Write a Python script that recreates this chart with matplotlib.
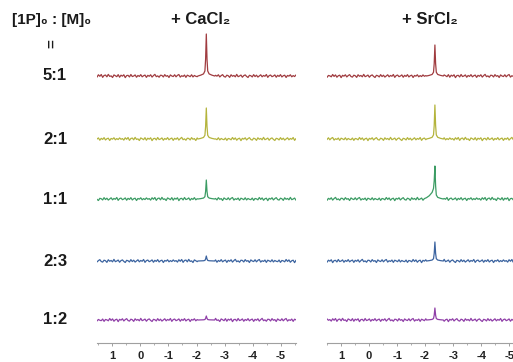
import numpy as np
import matplotlib
matplotlib.use('Agg')
import matplotlib.pyplot as plt
from matplotlib.ticker import MultipleLocator, FixedLocator

plt.rcParams['font.family'] = ['Liberation Sans', 'DejaVu Sans']
plt.rcParams['axes.unicode_minus'] = False

# ratios [1P]0 : [M]0, top to bottom
ratios = ['5:1', '2:1', '1:1', '2:3', '1:2']
salts = ['+ CaCl₂', '+ SrCl₂']
colors = ['#a03c40', '#b4b43c', '#3c9c64', '#3c64a0', '#9040a8']
peak_ppm = [-2.35, -2.35]
# peak heights (a.u.) per salt, per ratio
heights_ca = [42, 31, 19, 5, 4]
heights_sr = [31, 34, 33, 19, 12]
tick_ppm = [1, 0, -1, -2, -3, -4, -5]

# line shape around the peak, offsets in ppm
peak_off = [-0.3, -0.2, -0.1, -0.05, -0.025, 0, 0.025, 0.05, 0.1, 0.2, 0.3]
shape_sharp = [0, 0.02, 0.05, 0.12, 0.4, 1, 0.4, 0.12, 0.05, 0.02, 0]
shape_tail = [0, 0.02, 0.05, 0.12, 0.4, 1, 0.55, 0.32, 0.2, 0.1, 0.04]

# baseline noise
noise_a = [0.3, -0.8, 0.9, -0.2, 1.1, -1.0, 0.4, 0.7, -0.6, 1.2, -0.3, 0.1,
           -1.1, 0.8, 0.2, -0.5, 1.0, -0.9, 0.6, -0.1, 0.9, -1.2, 0.3, 0.5,
           -0.7, 1.1, -0.4, 0.0, 0.8, -0.9, 0.4, -0.3, 1.0, -0.6, 0.2, 0.7,
           -1.0, 0.5, -0.2, 0.9, -0.8, 0.3, 1.2, -0.5, 0.1, -0.9, 0.6, 0.4,
           -0.7, 1.0, -0.2, 0.3, -1.1, 0.8, 0.0, -0.4, 0.9, -0.6, 0.5, 1.1,
           -0.8, 0.2, -0.3, 0.7, -1.0, 0.6, 0.1, -0.5, 0.9, -0.7, 0.4, -0.2]
noise_b = [-0.5, 0.7, -1.0, 0.4, 0.1, -0.6, 1.1, -0.3, 0.8, -0.9, 0.2, 0.6,
           -1.2, 0.5, -0.1, 0.9, -0.7, 0.3, 1.0, -0.4, -0.8, 0.6, 0.2, -1.0,
           0.9, -0.2, 0.4, -0.6, 1.2, -0.5, 0.0, 0.7, -0.9, 0.3, 0.8, -0.3,
           -1.1, 0.5, 0.2, -0.7, 1.0, -0.4, 0.6, -0.8, 0.1, 0.9, -0.6, 0.4,
           -0.2, 1.1, -1.0, 0.3, 0.7, -0.5, 0.0, 0.8, -0.9, 0.5, -0.3, 1.0,
           -0.7, 0.2, 0.6, -1.1, 0.4, -0.1, 0.9, -0.6, 0.3, -0.4, 0.8, -0.2]

# layout (pixels)
W, H = 513, 362
row_y = [76, 139, 199, 261, 320]
axis_y = 343
panel_x0 = [97, 327]
panel_w = 199
xlims = [(1.55, -5.55), (1.5, -5.6)]
noise_gain = 1.35

fig = plt.figure(figsize=(W / 100, H / 100), dpi=100)


def spectrum(noise, height, shape, center):
    n = np.array(noise, dtype=float) * noise_gain
    x = np.linspace(1.6, -5.6, len(n))
    keep = np.abs(x - center) > 0.3
    px = np.concatenate([x[keep], center + np.array(peak_off)])
    py = np.concatenate([n[keep], height * np.array(shape)])
    order = np.argsort(-px)
    return px[order], py[order]


for p, heights in enumerate([heights_ca, heights_sr]):
    ax = fig.add_axes([panel_x0[p] / W, (H - axis_y) / H,
                       panel_w / W, axis_y / H])
    for i in range(len(ratios)):
        base = np.roll(noise_a + noise_b if p == 0 else noise_b + noise_a, 19 * i)
        shape = shape_tail if (p == 1 and i == 2) else shape_sharp
        x, y = spectrum(base, heights[i], shape, peak_ppm[p])
        ax.plot(x, y + (axis_y - row_y[i]), color=colors[i], lw=0.9)
    ax.set_xlim(*xlims[p])
    ax.set_ylim(0, axis_y)
    for s in ['top', 'left', 'right']:
        ax.spines[s].set_visible(False)
    ax.spines['bottom'].set_color('#a0a0a0')
    ax.spines['bottom'].set_linewidth(0.8)
    ax.set_yticks([])
    ax.xaxis.set_major_locator(FixedLocator(tick_ppm))
    ax.xaxis.set_minor_locator(MultipleLocator(0.5))
    ax.set_xticklabels([str(t) for t in tick_ppm], fontsize=8,
                       fontweight='bold', color='#222222')
    ax.tick_params(axis='x', which='major', length=2.5, width=0.7,
                   color='#a0a0a0', pad=3.5)
    ax.tick_params(axis='x', which='minor', length=1.5, width=0.6,
                   color='#a0a0a0')
    ax.patch.set_visible(False)

tx = [201, 430]
for p, s in enumerate(salts):
    fig.text(tx[p] / W, 1 - 20 / H, s, ha='center', va='center',
             fontsize=12, fontweight='bold', color='#1a1a1a')

fig.text(52 / W, 1 - 20 / H, '[1P]₀ : [M]₀', ha='center', va='center',
         fontsize=11, fontweight='bold', color='#1a1a1a')
fig.text(52 / W, 1 - 44 / H, '=', ha='center', va='center', rotation=90,
         fontsize=11, fontweight='bold', color='#1a1a1a')
for i, r in enumerate(ratios):
    fig.text(55 / W, 1 - row_y[i] / H, r, ha='center', va='center',
             fontsize=12, fontweight='bold', color='#1a1a1a')

fig.savefig('out.png', dpi=100)
